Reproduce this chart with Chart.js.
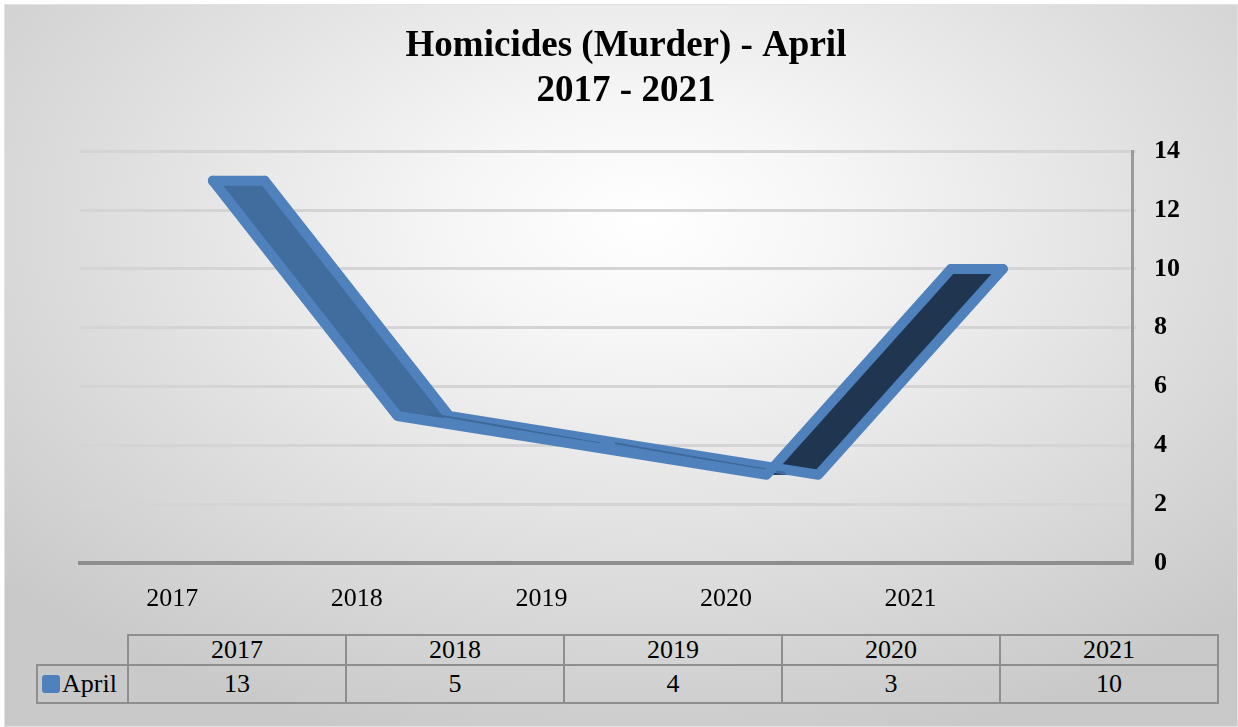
<!DOCTYPE html>
<html>
<head>
<meta charset="utf-8">
<script src="https://cdn.jsdelivr.net/npm/chart.js@4.4.1/dist/chart.umd.min.js"></script>
<style>
  html,body{margin:0;padding:0;background:#fff;}
  #frame{position:absolute;left:4px;top:4px;width:1232px;height:721px;border:1px solid #e2e2e2;
    background:radial-gradient(ellipse 70% 75% at 52% 30%, #ffffff 0%, #f6f6f6 22%, #e0e0e0 60%, #c9c9c9 100%);}
  #wrap{position:absolute;left:0;top:0;width:1238px;height:620px;}
  #dataTable{position:absolute;left:36px;top:634px;border-collapse:collapse;font-family:'Liberation Serif',serif;font-size:26px;color:#000;}
  #dataTable td{border:2px solid #8e8e8e;text-align:center;padding:0;width:216px;}
  #dataTable tr.head td{height:28px;line-height:28px;}
  #dataTable tr.vals td{height:36px;line-height:36px;}
  #dataTable td.blank{border-top:none;border-left:none;width:89px;}
  #dataTable td.series{width:89px;text-align:left;}
  .key{display:inline-block;width:18px;height:18px;background:#4F81BD;border-radius:3px;margin:0 2px 0 4px;vertical-align:-1px;}
</style>
</head>
<body>
<div id="frame"></div>
<div id="wrap"><canvas id="chart"></canvas></div>
<table id="dataTable"><tbody></tbody></table>
<script>
const categories = ['2017', '2018', '2019', '2020', '2021'];
const seriesName = 'April';
const aprilValues = [13, 5, 4, 3, 10];
const yMin = 0, yMax = 14, yStep = 2;

// ribbon depth, in category units (front edge / back edge offset from the tick)
const FRONT = 0.22, BACK = 0.5;
const EDGE = '#4F81BD';

const ribbon3d = {
  id: 'ribbon3d',
  beforeDatasetsDraw(chart) {
    const x = chart.scales.x, y = chart.scales.y, ctx = chart.ctx;
    const F = aprilValues.map((v,i)=>[x.getPixelForValue(i+FRONT), y.getPixelForValue(v)]);
    const B = aprilValues.map((v,i)=>[x.getPixelForValue(i+BACK), y.getPixelForValue(v)]);
    ctx.save();
    for (let i=0;i<F.length-1;i++){
      const down = aprilValues[i+1] < aprilValues[i];
      ctx.fillStyle = down ? '#416C9E' : '#1F3550';
      ctx.beginPath();
      ctx.moveTo(F[i][0],F[i][1]); ctx.lineTo(F[i+1][0],F[i+1][1]);
      ctx.lineTo(B[i+1][0],B[i+1][1]); ctx.lineTo(B[i][0],B[i][1]);
      ctx.closePath(); ctx.fill();
    }
    ctx.strokeStyle = EDGE; ctx.lineWidth = 10; ctx.lineJoin = 'round'; ctx.lineCap = 'round';
    // back edge
    ctx.beginPath();
    B.forEach((p,i)=> i ? ctx.lineTo(p[0],p[1]) : ctx.moveTo(p[0],p[1]));
    ctx.stroke();
    // end caps
    [0, F.length-1].forEach(i=>{
      ctx.beginPath(); ctx.moveTo(F[i][0],F[i][1]); ctx.lineTo(B[i][0],B[i][1]); ctx.stroke();
    });
    // thin seam where the flat segments fold
    ctx.strokeStyle = '#3D6898'; ctx.lineWidth = 2;
    for (let i=1;i<F.length-2;i++){
      ctx.beginPath();
      ctx.moveTo((F[i][0]+B[i][0])/2+8, (F[i][1]+B[i][1])/2-2);
      ctx.lineTo((F[i+1][0]+B[i+1][0])/2-8, (F[i+1][1]+B[i+1][1])/2-2);
      ctx.stroke();
    }
    ctx.restore();
  }
};

new Chart(document.getElementById('chart'), {
  type: 'line',
  data: {
    datasets: [{
      label: seriesName,
      data: aprilValues.map((v,i)=>({x: i+FRONT, y: v})),
      borderColor: EDGE,
      borderWidth: 10,
      borderJoinStyle: 'round',
      borderCapStyle: 'round',
      pointRadius: 0,
      tension: 0
    }]
  },
  options: {
    responsive: true,
    maintainAspectRatio: false,
    animation: false,
    layout: {padding: {left: 14, right: 0, top: 0, bottom: 0}},
    plugins: {
      legend: {display: false},
      tooltip: {enabled: false},
      title: {
        display: true,
        text: ['Homicides (Murder) - ' + seriesName, categories[0] + ' - ' + categories[categories.length-1]],
        color: '#000',
        font: {family: 'Liberation Serif', size: 37, weight: 'bold', lineHeight: 1.22},
        padding: {top: 24, bottom: 37}
      }
    },
    scales: {
      x: {
        type: 'linear',
        min: -0.5,
        max: 5.2,
        afterBuildTicks: ax => { ax.ticks = categories.map((c,i)=>({value: i})); },
        afterFit: ax => { ax.height = 57; },
        grid: {display: false},
        border: {display: true, color: '#8e8e8e', width: 4},
        ticks: {
          callback: v => categories[v],
          color: '#000',
          padding: 13,
          maxRotation: 0,
          autoSkip: false,
          font: {family: 'Liberation Serif', size: 26}
        }
      },
      y: {
        position: 'right',
        min: yMin,
        max: yMax,
        afterFit: ax => { ax.width = 106; },
        grid: {color: '#d4d4d4', lineWidth: 3, tickLength: 4},
        border: {display: true, color: '#9a9a9a', width: 3},
        ticks: {
          stepSize: yStep,
          color: '#000',
          padding: 18,
          font: {family: 'Liberation Serif', size: 26, weight: 'bold'}
        }
      },
      // empty spacer on the left so the plot starts where the title is centred
      spacer: {
        position: 'left',
        min: yMin,
        max: yMax,
        afterFit: ax => { ax.width = 66; },
        grid: {display: false},
        border: {display: false},
        ticks: {display: false}
      }
    }
  },
  plugins: [ribbon3d]
});

// data table under the chart
const tbody = document.querySelector('#dataTable tbody');
const head = document.createElement('tr'); head.className = 'head';
head.innerHTML = '<td class="blank"></td>' + categories.map(c=>`<td>${c}</td>`).join('');
const vals = document.createElement('tr'); vals.className = 'vals';
vals.innerHTML = `<td class="series"><span class="key"></span>${seriesName}</td>` + aprilValues.map(v=>`<td>${v}</td>`).join('');
tbody.appendChild(head); tbody.appendChild(vals);
</script>
</body>
</html>
